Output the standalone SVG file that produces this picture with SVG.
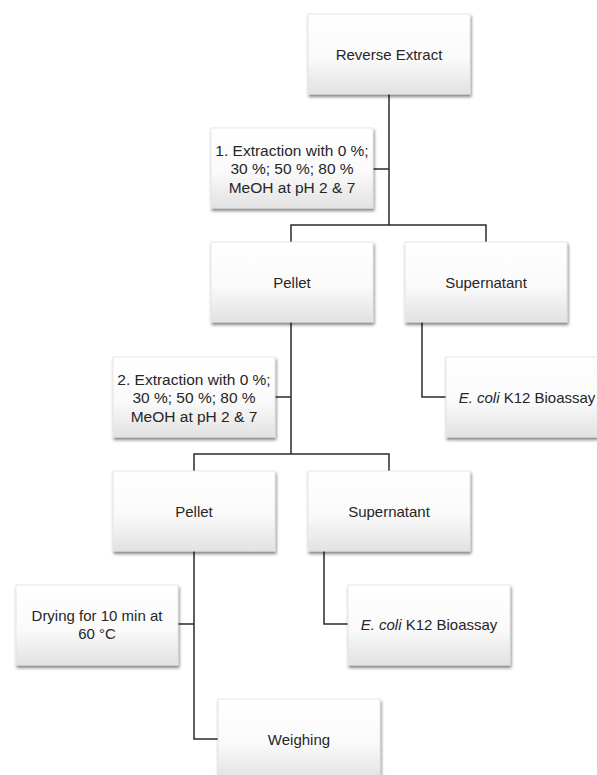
<svg xmlns="http://www.w3.org/2000/svg" width="597" height="775" viewBox="0 0 597 775">
<defs>
<linearGradient id="g" x1="0" y1="0" x2="0" y2="1">
<stop offset="0" stop-color="#ffffff"/>
<stop offset="0.55" stop-color="#fafafa"/>
<stop offset="1" stop-color="#e2e2e2"/>
</linearGradient>
<filter id="sh" x="-10%" y="-10%" width="125%" height="130%">
<feDropShadow dx="1" dy="2.5" stdDeviation="1.5" flood-color="#000" flood-opacity="0.5"/>
</filter>
</defs>
<style>
.box{fill:url(#g);stroke:#e2e2e2;stroke-width:0.8;filter:url(#sh)}
text{font-family:"Liberation Sans",Arial,sans-serif;font-size:15px;fill:#262626;text-anchor:middle}
.e{font-size:15.5px}
.c{fill:none;stroke:#2b2b2b;stroke-width:1.5}
</style>
<rect width="597" height="775" fill="#fff"/>
<g id="connectors">
<path class="c" d="M389,94 V225 M373,169 H389 M291,242 V225 H486 V242"/>
<path class="c" d="M291,322 V454 M275,397 H291 M194,471 V454 H389 V471"/>
<path class="c" d="M422,322 V397 H446"/>
<path class="c" d="M194,551 V739 H218 M177,624 H194"/>
<path class="c" d="M324,551 V624 H348"/>
</g>
<g id="reverse-extract"><rect class="box" x="308" y="14" width="162" height="80"/><text x="389" y="60">Reverse Extract</text></g>
<g id="extraction-1"><rect class="box" x="211" y="128" width="162" height="80"/><text class="e" x="292" y="156">1. Extraction with 0 %;</text><text class="e" x="292" y="174">30 %; 50 %; 80 %</text><text class="e" x="292" y="193">MeOH at pH 2 &amp; 7</text></g>
<g id="pellet-1"><rect class="box" x="211" y="242" width="162" height="80"/><text x="292" y="288">Pellet</text></g>
<g id="supernatant-1"><rect class="box" x="405" y="242" width="162" height="80"/><text x="486" y="288">Supernatant</text></g>
<g id="bioassay-1"><rect class="box" x="446" y="357" width="162" height="80"/><text x="527" y="403"><tspan font-style="italic">E. coli</tspan> K12 Bioassay</text></g>
<g id="extraction-2"><rect class="box" x="113" y="357" width="162" height="80"/><text class="e" x="194" y="385">2. Extraction with 0 %;</text><text class="e" x="194" y="403">30 %; 50 %; 80 %</text><text class="e" x="194" y="422">MeOH at pH 2 &amp; 7</text></g>
<g id="pellet-2"><rect class="box" x="113" y="471" width="162" height="80"/><text x="194" y="517">Pellet</text></g>
<g id="supernatant-2"><rect class="box" x="308" y="471" width="162" height="80"/><text x="389" y="517">Supernatant</text></g>
<g id="drying"><rect class="box" x="16" y="585" width="162" height="80"/><text x="97" y="621">Drying for 10 min at</text><text x="97" y="639">60 °C</text></g>
<g id="bioassay-2"><rect class="box" x="348" y="585" width="162" height="80"/><text x="429" y="630"><tspan font-style="italic">E. coli</tspan> K12 Bioassay</text></g>
<g id="weighing"><rect class="box" x="218" y="699" width="162" height="80"/><text x="299" y="745">Weighing</text></g>
</svg>
